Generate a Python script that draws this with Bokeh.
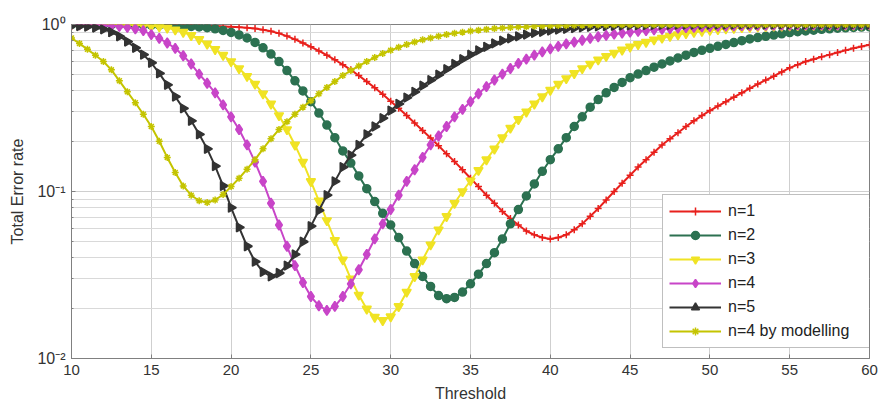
import numpy as np
from bokeh.plotting import figure
from bokeh.models import FixedTicker, Legend, LegendItem, Range1d
from bokeh.embed import file_html
from bokeh.resources import INLINE

# Threshold sweep, one sample every 0.5
threshold = np.arange(10.0, 60.0 + 0.25, 0.5)

err_n1 = [
    0.999, 0.999, 0.999, 0.998, 0.998, 0.998, 0.997, 0.997, 0.996, 0.995,
    0.994, 0.993, 0.992, 0.990, 0.988, 0.986, 0.984, 0.981, 0.978, 0.974,
    0.970, 0.964, 0.957, 0.946, 0.930, 0.910, 0.885, 0.852, 0.815, 0.775,
    0.735, 0.695, 0.655, 0.615, 0.575, 0.535, 0.495, 0.455, 0.418, 0.382,
    0.347, 0.315, 0.285, 0.257, 0.232, 0.209, 0.188, 0.168, 0.151, 0.135,
    0.120, 0.107, 0.095, 0.085, 0.076, 0.069, 0.063, 0.058, 0.055, 0.053,
    0.052, 0.053, 0.055, 0.059, 0.064, 0.071, 0.079, 0.089, 0.100, 0.112,
    0.125, 0.140, 0.155, 0.172, 0.190, 0.207, 0.225, 0.245, 0.265, 0.285,
    0.305, 0.325, 0.345, 0.367, 0.390, 0.415, 0.440, 0.465, 0.490, 0.520,
    0.550, 0.575, 0.600, 0.620, 0.640, 0.660, 0.680, 0.700, 0.720, 0.738,
    0.757,
]

err_n2 = [
    0.999, 0.999, 0.999, 0.998, 0.998, 0.997, 0.997, 0.996, 0.995, 0.994,
    0.992, 0.990, 0.987, 0.984, 0.979, 0.974, 0.967, 0.956, 0.942, 0.922,
    0.897, 0.866, 0.830, 0.781, 0.725, 0.665, 0.600, 0.530, 0.460, 0.400,
    0.345, 0.295, 0.250, 0.210, 0.175, 0.148, 0.124, 0.104, 0.087, 0.074,
    0.063, 0.053, 0.044, 0.037, 0.031, 0.027, 0.0238, 0.0228, 0.0232, 0.025,
    0.028, 0.032, 0.037, 0.043, 0.052, 0.064, 0.078, 0.094, 0.111, 0.132,
    0.155, 0.180, 0.210, 0.245, 0.280, 0.320, 0.355, 0.390, 0.420, 0.450,
    0.480, 0.505, 0.530, 0.555, 0.580, 0.605, 0.630, 0.655, 0.680, 0.700,
    0.720, 0.740, 0.760, 0.780, 0.800, 0.820, 0.835, 0.850, 0.865, 0.880,
    0.895, 0.905, 0.915, 0.925, 0.935, 0.942, 0.950, 0.955, 0.960, 0.965,
    0.968,
]

err_n3 = [
    0.999, 0.999, 0.999, 0.999, 0.998, 0.998, 0.997, 0.996, 0.994, 0.990,
    0.983, 0.972, 0.955, 0.930, 0.900, 0.860, 0.815, 0.765, 0.710, 0.655,
    0.600, 0.545, 0.490, 0.440, 0.385, 0.335, 0.285, 0.235, 0.190, 0.150,
    0.115, 0.088, 0.067, 0.051, 0.039, 0.030, 0.024, 0.0198, 0.0177, 0.0169,
    0.0178, 0.0205, 0.025, 0.031, 0.039, 0.048, 0.059, 0.071, 0.085, 0.100,
    0.116, 0.134, 0.155, 0.180, 0.210, 0.240, 0.270, 0.300, 0.335, 0.370,
    0.405, 0.440, 0.475, 0.510, 0.545, 0.580, 0.615, 0.645, 0.675, 0.705,
    0.735, 0.760, 0.785, 0.810, 0.830, 0.850, 0.870, 0.885, 0.900, 0.912,
    0.925, 0.935, 0.944, 0.952, 0.959, 0.965, 0.970, 0.975, 0.979, 0.982,
    0.985, 0.987, 0.989, 0.990, 0.991, 0.992, 0.993, 0.994, 0.995, 0.995,
    0.996,
]

err_n4 = [
    0.998, 0.997, 0.996, 0.994, 0.990, 0.984, 0.975, 0.962, 0.943, 0.918,
    0.870, 0.825, 0.775, 0.720, 0.650, 0.580, 0.505, 0.445, 0.390, 0.330,
    0.280, 0.235, 0.190, 0.150, 0.115, 0.085, 0.063, 0.047, 0.036, 0.0285,
    0.0235, 0.0207, 0.0194, 0.0205, 0.0235, 0.028, 0.034, 0.042, 0.052, 0.064,
    0.078, 0.095, 0.115, 0.135, 0.160, 0.190, 0.215, 0.245, 0.280, 0.310,
    0.345, 0.385, 0.425, 0.465, 0.505, 0.545, 0.585, 0.620, 0.655, 0.685,
    0.715, 0.740, 0.765, 0.785, 0.805, 0.825, 0.845, 0.860, 0.875, 0.887,
    0.900, 0.910, 0.920, 0.929, 0.937, 0.944, 0.951, 0.957, 0.962, 0.967,
    0.971, 0.975, 0.978, 0.981, 0.984, 0.986, 0.988, 0.990, 0.991, 0.992,
    0.993, 0.994, 0.995, 0.996, 0.996, 0.997, 0.997, 0.998, 0.998, 0.998,
    0.998,
]

err_n5 = [
    0.985, 0.979, 0.970, 0.958, 0.935, 0.900, 0.850, 0.790, 0.725, 0.660,
    0.590, 0.510, 0.435, 0.370, 0.315, 0.265, 0.220, 0.180, 0.142, 0.108,
    0.080, 0.061, 0.047, 0.038, 0.033, 0.031, 0.0325, 0.036, 0.042, 0.050,
    0.062, 0.077, 0.095, 0.115, 0.140, 0.165, 0.190, 0.220, 0.245, 0.275,
    0.305, 0.335, 0.365, 0.395, 0.430, 0.465, 0.500, 0.540, 0.580, 0.620,
    0.660, 0.700, 0.735, 0.770, 0.800, 0.825, 0.850, 0.870, 0.890, 0.905,
    0.920, 0.932, 0.943, 0.953, 0.961, 0.968, 0.974, 0.979, 0.983, 0.986,
    0.989, 0.991, 0.993, 0.994, 0.995, 0.996, 0.997, 0.997, 0.998, 0.998,
    0.998, 0.999, 0.999, 0.999, 0.999, 0.999, 0.999, 0.999, 0.999, 0.999,
    0.999, 0.999, 0.999, 0.999, 0.999, 0.999, 0.999, 0.999, 0.999, 0.999,
    0.999,
]

err_n4_model = [
    0.830, 0.770, 0.710, 0.655, 0.600, 0.535, 0.460, 0.395, 0.340, 0.290,
    0.245, 0.200, 0.160, 0.130, 0.108, 0.095, 0.088, 0.086, 0.089, 0.096,
    0.107, 0.120, 0.136, 0.155, 0.180, 0.207, 0.235, 0.262, 0.290, 0.320,
    0.350, 0.385, 0.420, 0.455, 0.495, 0.530, 0.565, 0.600, 0.635, 0.670,
    0.700, 0.730, 0.760, 0.785, 0.810, 0.830, 0.850, 0.870, 0.885, 0.900,
    0.913, 0.925, 0.935, 0.945, 0.953, 0.960, 0.966, 0.971, 0.976, 0.980,
    0.983, 0.986, 0.988, 0.990, 0.991, 0.992, 0.993, 0.994, 0.995, 0.995,
    0.996, 0.996, 0.997, 0.997, 0.997, 0.998, 0.998, 0.998, 0.998, 0.998,
    0.999, 0.999, 0.999, 0.999, 0.999, 0.999, 0.999, 0.999, 0.999, 0.999,
    0.999, 0.999, 0.999, 0.999, 0.999, 0.999, 0.999, 0.999, 0.999, 0.999,
    0.999,
]

series_labels = ["n=1", "n=2", "n=3", "n=4", "n=5", "n=4 by modelling"]

x_ticks = [10, 15, 20, 25, 30, 35, 40, 45, 50, 55, 60]
y_ticks = [0.01, 0.1, 1.0]
y_tick_labels = {0.01: "10\u207b\u00b2", 0.1: "10\u207b\u00b9", 1: "10\u2070"}
y_minor = [0.02, 0.03, 0.04, 0.05, 0.06, 0.07, 0.08, 0.09,
           0.2, 0.3, 0.4, 0.5, 0.6, 0.7, 0.8, 0.9]

FONT = "Liberation Sans"

p = figure(width=881, height=404, y_axis_type="log",
           x_range=Range1d(10, 60), y_range=Range1d(0.01, 1.0),
           output_backend="svg", toolbar_location=None,
           min_border_left=71, min_border_right=12,
           min_border_top=24, min_border_bottom=44)
p.background_fill_color = "white"
p.border_fill_color = "white"
p.outline_line_color = "#808080"
p.outline_line_width = 1

p.xaxis.ticker = FixedTicker(ticks=x_ticks)
p.yaxis.ticker = FixedTicker(ticks=y_ticks, minor_ticks=y_minor)
p.yaxis.major_label_overrides = y_tick_labels

for ax in (p.xaxis, p.yaxis):
    ax.axis_line_color = "#808080"
    ax.major_tick_line_color = "#808080"
    ax.minor_tick_line_color = "#808080"
    ax.major_tick_in = 4
    ax.major_tick_out = 0
    ax.minor_tick_in = 2
    ax.minor_tick_out = 0
    ax.major_label_text_font = FONT
    ax.major_label_text_font_size = "15px"
    ax.major_label_text_color = "#333333"
    ax.axis_label_text_font = FONT
    ax.axis_label_text_font_size = "16px"
    ax.axis_label_text_font_style = "normal"
    ax.axis_label_text_color = "#333333"

p.yaxis.major_label_text_font_size = "16px"
p.xaxis.axis_label = "Threshold"
p.yaxis.axis_label = "Total Error rate"
p.xaxis.major_label_standoff = 6
p.yaxis.major_label_standoff = 6
p.xaxis.axis_label_standoff = 7
p.yaxis.axis_label_standoff = 8

p.xgrid.grid_line_color = "#cfcfcf"
p.ygrid.grid_line_color = "#cfcfcf"
p.ygrid.minor_grid_line_color = "#d9d9d9"

# n=5 uses a triangle turned to point right
styles = [
    dict(color="#e8201c", marker="cross", size=7, angle=0.0),
    dict(color="#2c7151", marker="circle", size=8, angle=0.0),
    dict(color="#f0e324", marker="inverted_triangle", size=9, angle=0.0),
    dict(color="#c845c8", marker="diamond", size=10, angle=0.0),
    dict(color="#333333", marker="triangle", size=9, angle=-90.0),
    dict(color="#c4c400", marker="asterisk", size=7, angle=0.0),
]
all_series = [err_n1, err_n2, err_n3, err_n4, err_n5, err_n4_model]

items = []
for label, vals, st in zip(series_labels, all_series, styles):
    ln = p.line(threshold, vals, line_color=st["color"], line_width=2)
    sc = p.scatter(threshold, vals, marker=st["marker"], size=st["size"],
                   angle=st["angle"], angle_units="deg",
                   fill_color=st["color"], line_color=st["color"],
                   line_width=1.5)
    items.append(LegendItem(label=label, renderers=[ln, sc]))

legend = Legend(items=items, location=(591, 10))
legend.label_text_font = FONT
legend.label_text_font_size = "16px"
legend.label_text_color = "#222222"
legend.glyph_width = 52
legend.glyph_height = 20
legend.label_height = 20
legend.label_width = 135
legend.label_standoff = 7
legend.spacing = 4
legend.padding = 6
legend.margin = 0
legend.border_line_color = "#808080"
legend.border_line_width = 1
legend.background_fill_color = "white"
legend.background_fill_alpha = 1.0
p.add_layout(legend, "center")

open("out.html", "w").write(file_html(p, INLINE))
